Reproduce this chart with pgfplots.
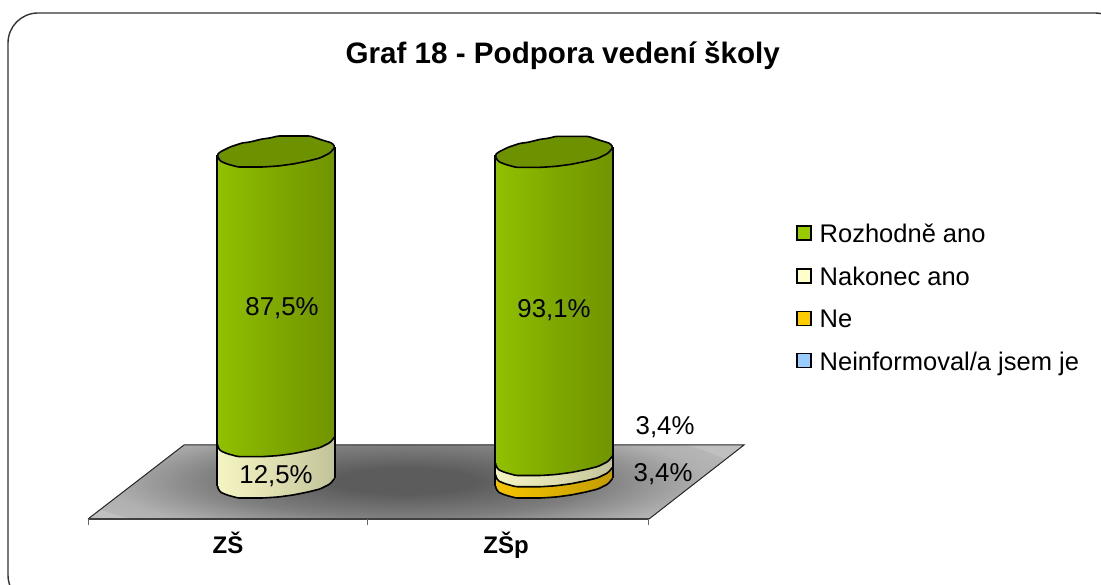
\documentclass[border=0pt]{standalone}
\usepackage{pgfplots}
\pgfplotsset{compat=1.18}
\usepackage{fontspec}
\setmainfont{Liberation Sans}
\definecolor{gA}{HTML}{8FC000}\definecolor{gB}{HTML}{99CC00}\definecolor{gC}{HTML}{7FA800}\definecolor{gD}{HTML}{6E9000}\definecolor{gE}{HTML}{5F7C00}
\definecolor{cA}{HTML}{F6F6C6}\definecolor{cB}{HTML}{FFFFCC}\definecolor{cC}{HTML}{DEDEB0}\definecolor{cD}{HTML}{BDBD96}\definecolor{cE}{HTML}{A8A884}
\definecolor{oA}{HTML}{F0BF00}\definecolor{oB}{HTML}{FFCC00}\definecolor{oC}{HTML}{DEB100}\definecolor{oD}{HTML}{BD9700}\definecolor{oE}{HTML}{A88600}
\definecolor{capG}{HTML}{6E9100}
\pgfdeclarehorizontalshading{cylgreen}{100bp}{color(0bp)=(gA); color(14bp)=(gB); color(50bp)=(gC); color(80bp)=(gD); color(100bp)=(gE)}
\pgfdeclarehorizontalshading{cylcream}{100bp}{color(0bp)=(cA); color(14bp)=(cB); color(50bp)=(cC); color(80bp)=(cD); color(100bp)=(cE)}
\pgfdeclarehorizontalshading{cylorange}{100bp}{color(0bp)=(oA); color(14bp)=(oB); color(50bp)=(oC); color(80bp)=(oD); color(100bp)=(oE)}
\definecolor{fA}{HTML}{5C5C5C}\definecolor{fB}{HTML}{7E7E7E}\definecolor{fC}{HTML}{B0B0B0}\definecolor{fD}{HTML}{C0C0C0}
\pgfdeclareradialshading{floorshade}{\pgfpoint{0bp}{0bp}}{color(0bp)=(fA); color(5bp)=(fA); color(14bp)=(fB); color(22bp)=(fC); color(30bp)=(fD); color(50bp)=(fD)}
\newcommand{\ringpath}{(-59pt,-4pt) -- (-56pt,-1pt) -- (-46pt,4pt) -- (-34pt,8pt) -- (-26pt,9pt) -- (-14pt,12pt) -- (-6pt,13pt) -- (2pt,15pt) -- (34pt,15pt) -- (46pt,11pt) -- (56pt,8pt) -- (59pt,4pt) -- (54pt,-2pt) -- (44pt,-7pt) -- (32pt,-10pt) -- (17pt,-13pt) -- (2pt,-15pt) -- (-13pt,-16pt) -- (-38pt,-16pt) -- (-49pt,-13pt) -- (-56pt,-10pt) -- cycle}
\newcommand{\ring}[3]{\path[shift={(axis cs:#1,#2)},draw=black,line width=1.6pt,rounded corners=1.5pt,#3] \ringpath;}
\pgfplotsset{base/.style={
  at={(0pt,0pt)},anchor=south west,
  scale only axis,width=1101pt,height=584pt,
  xmin=-0.99281,xmax=2.96763,ymin=-30.816,ymax=145.619,
  clip=false,
  ybar stacked,bar width=118pt,reverse stacked plots=false,
  axis line style={draw=none},
  ytick=\empty,major tick length=0pt,
}}
\begin{document}
\begin{tikzpicture}
\path[use as bounding box] (0pt,0pt) rectangle (1101pt,584pt);
\clip (0pt,0pt) rectangle (1101pt,584pt);
\begin{scope}[x=1pt,y=-1pt,yshift=584pt]
 \draw[line width=1.4pt,draw=black!80,rounded corners=30pt] (8,13) rectangle (1125,605);
 \begin{scope}
  \clip (88,519) -- (184,445) -- (744,445) -- (649,519) -- cycle;
  \fill[fD] (88,519) -- (184,445) -- (744,445) -- (649,519) -- cycle;
  \path[shading=floorshade] (405,481) ellipse [x radius=340, y radius=64];
 \end{scope}
 \draw[line width=1pt,draw=black!85] (88,519) -- (184,445) -- (744,445) -- (649,519);
 \draw[line width=1.4pt,draw=black!75] (88,519) -- (649,519);
 \draw[line width=1pt,draw=black!60] (88,519) -- (88,525) (367.5,519) -- (367.5,525) (648.5,519) -- (648.5,525);
\end{scope}
\begin{axis}[base,
  xtick={0,1},xticklabels={ZŠ,ZŠp},
  xticklabel style={font=\fontsize{24}{28}\selectfont\bfseries,xshift=-48pt,yshift=56pt},
  legend style={draw=none,fill=none,at={(796pt,362pt)},anchor=north west,font=\fontsize{25.5}{30}\selectfont,row sep=18.8pt,inner sep=0pt,/tikz/every odd column/.style={column sep=6pt}},
  legend cell align=left,
  legend image code/.code={\draw[#1,draw=black,line width=1.5pt] (0pt,-6pt) rectangle (14pt,8pt);},
]
\ring{0}{0}{shade,shading=cylcream}
\addplot[forget plot,draw=none,shade,shading=cylcream,yshift=-18.71pt,yslant=0.0678] coordinates {(0,12.5)};
\ring{0}{12.5}{shade,shading=cylgreen}
\addplot[forget plot,draw=none,shade,shading=cylgreen,yshift=-18.71pt,yslant=0.0678] coordinates {(0,87.5)};
\ring{0}{100}{fill=capG}
\draw[line width=1.6pt] ([shift={(-59pt,-4pt)}]axis cs:0,0) -- ([shift={(-59pt,-4pt)}]axis cs:0,100);
\draw[line width=1.6pt] ([shift={(59pt,4pt)}]axis cs:0,0) -- ([shift={(59pt,4pt)}]axis cs:0,100);
\node[font=\fontsize{25.8}{30}\selectfont] at (axis cs:0.0216,52.6) {87,5\%};
\node[font=\fontsize{25.8}{30}\selectfont] at (axis cs:0,1.8) {12,5\%};
\node[font=\fontsize{29.6}{34}\selectfont\bfseries] at (axis cs:1.0316,128.9) {Graf 18 - Podpora vedení školy};
\addlegendimage{fill=gB}\addlegendentry{Rozhodně ano}
\addlegendimage{fill=cB}\addlegendentry{Nakonec ano}
\addlegendimage{fill=oB}\addlegendentry{Ne}
\addlegendimage{fill={rgb,255:red,153;green,204;blue,255}}\addlegendentry{Neinformoval/a jsem je}
\end{axis}
\begin{axis}[base,xtick=\empty]
\ring{1}{0}{shade,shading=cylorange}
\addplot[forget plot,draw=none,shade,shading=cylorange,yshift=-37.56pt,yslant=0.0678] coordinates {(1,3.4)};
\ring{1}{3.4}{shade,shading=cylcream}
\addplot[forget plot,draw=none,shade,shading=cylcream,yshift=-37.56pt,yslant=0.0678] coordinates {(1,3.4)};
\ring{1}{6.8}{shade,shading=cylgreen}
\addplot[forget plot,draw=none,shade,shading=cylgreen,yshift=-37.56pt,yslant=0.0678] coordinates {(1,93.1)};
\ring{1}{99.9}{fill=capG}
\draw[line width=1.6pt] ([shift={(-59pt,-4pt)}]axis cs:1,0) -- ([shift={(-59pt,-4pt)}]axis cs:1,99.9);
\draw[line width=1.6pt] ([shift={(59pt,4pt)}]axis cs:1,0) -- ([shift={(59pt,4pt)}]axis cs:1,99.9);
\node[font=\fontsize{25.8}{30}\selectfont] at (axis cs:1,52) {93,1\%};
\node[font=\fontsize{25.8}{30}\selectfont] at (axis cs:1.3996,16.5) {3,4\%};
\node[font=\fontsize{25.8}{30}\selectfont] at (axis cs:1.3925,2.4) {3,4\%};
\end{axis}
\end{tikzpicture}
\end{document}
